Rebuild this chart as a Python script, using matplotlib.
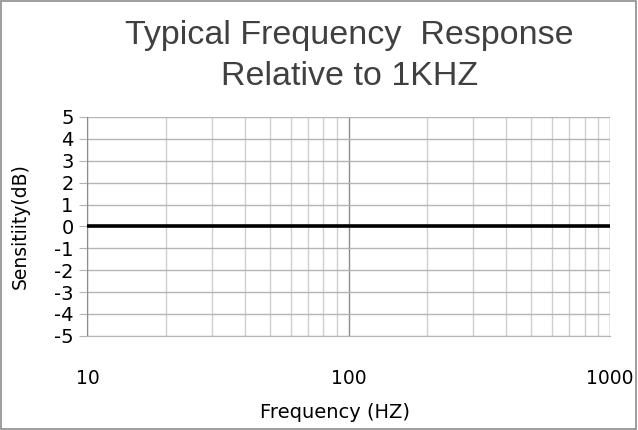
import numpy as np
import matplotlib
matplotlib.use("Agg")
import matplotlib.pyplot as plt
from matplotlib.ticker import LogLocator, FixedLocator, NullFormatter

plt.rcParams["axes.unicode_minus"] = False

# données
freq = [10, 20, 50, 100, 200, 500, 1000]
sens = [0, 0, 0, 0, 0, 0, 0]
y_ticks = [5, 4, 3, 2, 1, 0, -1, -2, -3, -4, -5]
x_ticks = [10, 100, 1000]
x_labels = ["10", "100", "1000"]

fig = plt.figure(figsize=(6.38, 4.30), dpi=100)
ax = fig.add_axes([0.137, 0.219, 0.819, 0.509])

ax.plot(freq, sens, color="black", lw=2.6, solid_capstyle="butt", zorder=5)

ax.set_xscale("log")
ax.set_xlim(10, 1000)
ax.set_ylim(-5, 5)

ax.xaxis.set_major_locator(FixedLocator(x_ticks))
ax.set_xticklabels(x_labels)
ax.xaxis.set_minor_locator(LogLocator(base=10, subs=np.arange(2, 10)))
ax.xaxis.set_minor_formatter(NullFormatter())
ax.set_yticks(y_ticks)

ax.grid(which="major", axis="x", color="#8c8c8c", lw=1.0)
ax.grid(which="minor", axis="x", color="#cfcfcf", lw=1.0)
ax.grid(which="major", axis="y", color="#b4b4b4", lw=1.0)

for s in ["top", "right"]:
    ax.spines[s].set_visible(False)
ax.spines["left"].set_color("#8c8c8c")
ax.spines["bottom"].set_color("#b4b4b4")

ax.tick_params(axis="y", length=6, color="#b4b4b4", labelsize=14, pad=4)
ax.tick_params(axis="x", which="both", length=0, labelsize=13.5, pad=24)

ax.set_xlabel("Frequency (HZ)", fontsize=14)
ax.xaxis.set_label_coords(0.474, -0.305)
ax.set_ylabel("Sensitiity(dB)", fontsize=13.5)
ax.yaxis.set_label_coords(-0.11, 0.5)

fig.text(0.548, 0.918, "Typical Frequency  Response", ha="center", va="center",
         fontsize=24.5, family="Liberation Sans", color="#404040")
fig.text(0.548, 0.822, "Relative to 1KHZ", ha="center", va="center",
         fontsize=24.5, family="Liberation Sans", color="#404040")

# cadre autour de la figure
fig.patches.append(plt.Rectangle((0.002, 0.003), 0.995, 0.994, transform=fig.transFigure,
                                 fill=False, edgecolor="#8c8c8c", lw=1.2))

fig.savefig("out.png", dpi=100)
